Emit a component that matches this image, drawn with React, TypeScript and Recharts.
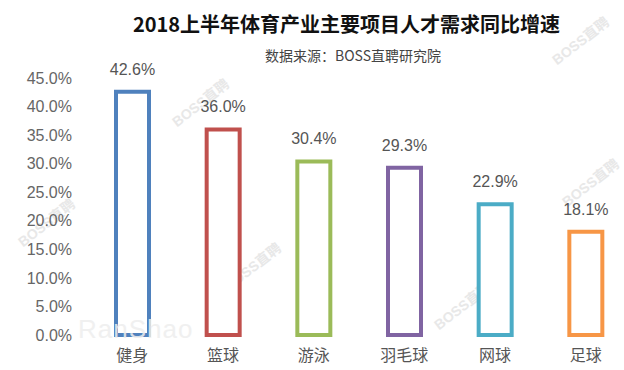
import { BarChart, Bar, XAxis, YAxis, Cell, LabelList } from 'recharts';

const categories = ['健身', '篮球', '游泳', '羽毛球', '网球', '足球'];
const growth = [42.6, 36.0, 30.4, 29.3, 22.9, 18.1];
const barColors = ['#4F81BD', '#C0504D', '#9BBB59', '#8064A2', '#4BACC6', '#F79646'];
const yTicks = [0, 5, 10, 15, 20, 25, 30, 35, 40, 45];

const data = categories.map((name, i) => ({ name, value: growth[i] }));

const FONT = '"Liberation Sans", Arial, "Noto Sans CJK SC", sans-serif';

// faint watermarks from the source image
const marks = [
    { x: 200, y: 102 },
    { x: 252, y: 266 },
    { x: 462, y: 305 },
    { x: 46, y: 222 },
    { x: 580, y: 40 },
    { x: 590, y: 182 },
];

export default function App() {
    return (
        <div style={{ position: 'absolute', left: 0, top: 0, width: 624, height: 370, overflow: 'hidden', background: '#fff', fontFamily: FONT }}>
            {marks.map((m, i) => (
                <div
                    key={i}
                    style={{
                        position: 'absolute', left: m.x - 40, top: m.y - 10, width: 80, textAlign: 'center',
                        transform: 'rotate(-38deg)', color: '#e8e8e8', fontSize: 14, fontWeight: 'bold', whiteSpace: 'nowrap',
                    }}
                >
                    BOSS直聘
                </div>
            ))}
            <div style={{ position: 'absolute', left: 0, top: 9, width: 693, textAlign: 'center', fontSize: 20, fontWeight: 'bold', color: '#111', fontFamily: '"Noto Sans CJK SC", sans-serif' }}>
                2018上半年体育产业主要项目人才需求同比增速
            </div>
            <div style={{ position: 'absolute', left: 0, top: 45, width: 706, textAlign: 'center', fontSize: 14, color: '#444', fontFamily: '"Noto Sans CJK SC", sans-serif' }}>
                数据来源：BOSS直聘研究院
            </div>
            <div style={{ position: 'absolute', left: 0, top: 0 }}>
                <BarChart width={640} height={370} data={data} margin={{ top: 78, right: 9, bottom: 0, left: 0 }}>
                    <YAxis
                        width={87}
                        domain={[0, 45]}
                        ticks={yTicks}
                        axisLine={false}
                        tickLine={false}
                        tickSize={0}
                        tickMargin={15}
                        tickFormatter={(v: number) => v.toFixed(1) + '%'}
                        tick={{ fill: '#666', fontSize: 16, fontFamily: FONT }}
                    />
                    <XAxis
                        dataKey="name"
                        height={35}
                        axisLine={false}
                        tickLine={false}
                        tickSize={0}
                        tickMargin={15}
                        tick={{ fill: '#555', fontSize: 16, fontFamily: '"Noto Sans CJK SC", sans-serif' }}
                    />
                    <Bar dataKey="value" barSize={33} fill="#fff" strokeWidth={4} isAnimationActive={false}>
                        {data.map((d, i) => (
                            <Cell key={d.name} fill="#fff" stroke={barColors[i]} />
                        ))}
                        <LabelList
                            dataKey="value"
                            position="top"
                            offset={17}
                            formatter={(v: any) => Number(v).toFixed(1) + '%'}
                            style={{ fill: '#555', fontSize: 16, fontFamily: FONT }}
                        />
                    </Bar>
                </BarChart>
            </div>
            <div style={{ position: 'absolute', left: 78, top: 314, fontSize: 26, lineHeight: '30px', color: '#eeeeee', fontFamily: '"Liberation Sans", Arial, sans-serif', letterSpacing: 1, opacity: 0.85 }}>
                RanShao
            </div>
        </div>
    );
}
